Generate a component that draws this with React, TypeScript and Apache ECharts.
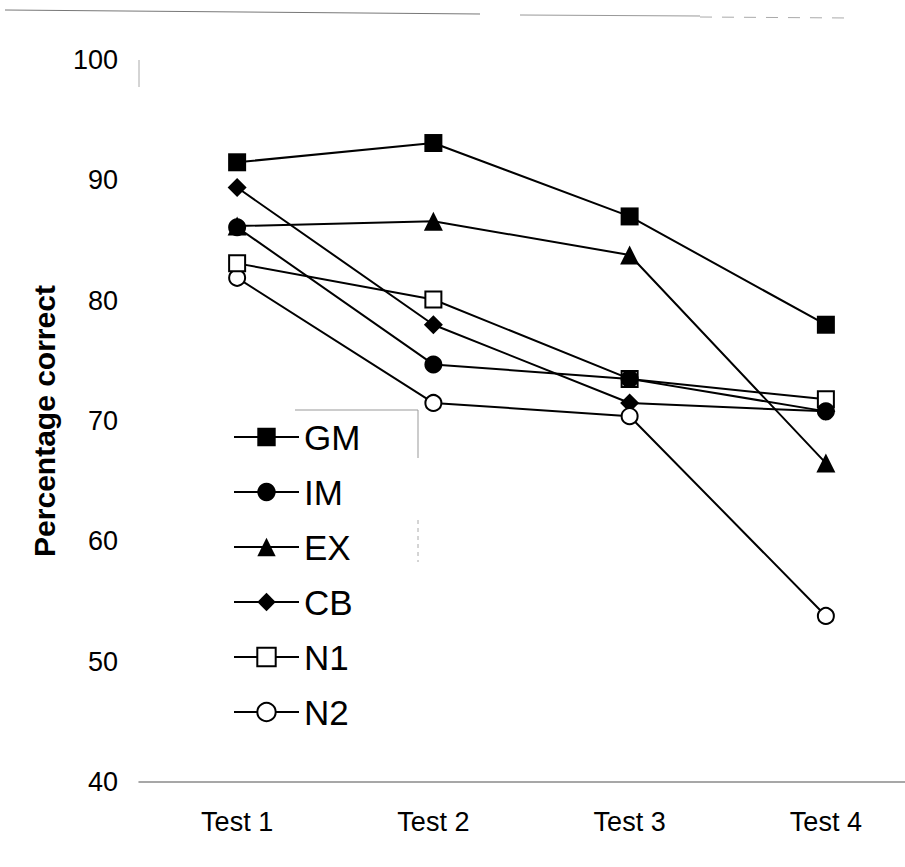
import React, { useEffect, useRef } from "react";
import * as echarts from "echarts";

const categories = ["Test 1", "Test 2", "Test 3", "Test 4"];
const seriesNames = ["GM", "IM", "EX", "CB", "N1", "N2"];
const gmValues = [91.5, 93.1, 87.0, 78.0];
const imValues = [86.1, 74.7, 73.5, 70.8];
const exValues = [86.2, 86.6, 83.8, 66.5];
const cbValues = [89.4, 78.0, 71.5, 70.8];
const n1Values = [83.1, 80.1, 73.5, 71.8];
const n2Values = [81.9, 71.5, 70.4, 53.8];
const yTicks = { min: 40, max: 100, interval: 10 };

const FONT = "'Liberation Sans', Arial, Helvetica, sans-serif";

export default function App() {
  const ref = useRef<HTMLDivElement>(null);
  useEffect(() => {
    if (!ref.current) return;
    const chart = echarts.init(ref.current, null, { renderer: "svg" });
    const mk = (
      name: string,
      data: number[],
      symbol: string,
      size: number,
      hollow: boolean,
      z: number
    ) => ({
      name,
      type: "line",
      data,
      symbol,
      symbolSize: size,
      z,
      lineStyle: { color: "#000", width: 2 },
      itemStyle: hollow
        ? { color: "#fff", borderColor: "#000", borderWidth: 2 }
        : { color: "#000", borderColor: "#000", borderWidth: 0 },
      emphasis: { disabled: true },
    });
    const gray = "#8a8a8a";
    chart.setOption({
      animation: false,
      backgroundColor: "#fff",
      grid: { left: 139, top: 60, width: 785, height: 722 },
      xAxis: {
        type: "category",
        data: categories,
        boundaryGap: true,
        axisLine: { show: true, lineStyle: { color: gray, width: 1.5 } },
        axisTick: { show: false },
        axisLabel: { color: "#000", fontSize: 27, fontFamily: FONT, margin: 26 },
        splitLine: { show: false },
      },
      yAxis: {
        type: "value",
        min: yTicks.min,
        max: yTicks.max,
        interval: yTicks.interval,
        name: "Percentage correct",
        nameLocation: "middle",
        nameRotate: 90,
        nameGap: 80,
        nameTextStyle: { color: "#000", fontSize: 30, fontWeight: "bold", fontFamily: FONT },
        axisLine: { show: false },
        axisTick: { show: false },
        splitLine: { show: false },
        axisLabel: { color: "#000", fontSize: 27, fontFamily: FONT, margin: 21 },
      },
      legend: {
        data: seriesNames,
        orient: "vertical",
        left: 233,
        top: 417,
        padding: 0,
        itemWidth: 65,
        itemHeight: 23,
        itemGap: 15,
        textStyle: { color: "#000", fontSize: 35, fontFamily: FONT, lineHeight: 40 },
        selectedMode: false,
      },
      graphic: [
        { type: "line", shape: { x1: 5, y1: 10, x2: 480, y2: 14 }, style: { stroke: "#777", lineWidth: 1 } },
        { type: "line", shape: { x1: 520, y1: 15, x2: 700, y2: 16 }, style: { stroke: "#999", lineWidth: 1 } },
        { type: "line", shape: { x1: 700, y1: 17, x2: 850, y2: 18 }, style: { stroke: "#aaa", lineWidth: 1, lineDash: [12, 10] } },
        { type: "line", shape: { x1: 139, y1: 60, x2: 139, y2: 87 }, style: { stroke: "#aaa", lineWidth: 1 } },
        { type: "line", shape: { x1: 295, y1: 410, x2: 418, y2: 410 }, style: { stroke: "#999", lineWidth: 1 } },
        { type: "line", shape: { x1: 418, y1: 410, x2: 418, y2: 458 }, style: { stroke: "#999", lineWidth: 1 } },
        { type: "line", shape: { x1: 418, y1: 520, x2: 418, y2: 562 }, style: { stroke: "#aaa", lineWidth: 1, lineDash: [4, 4] } },
      ],
      series: [
        mk("GM", gmValues, "rect", 18, false, 2),
        mk("IM", imValues, "circle", 18, false, 4),
        mk("EX", exValues, "triangle", 19, false, 2),
        mk("CB", cbValues, "diamond", 19, false, 2),
        mk("N1", n1Values, "rect", 16, true, 3),
        mk("N2", n2Values, "circle", 16, true, 2),
      ],
    });
    return () => chart.dispose();
  }, []);
  return (
    <div style={{ position: "absolute", left: 0, top: 0, width: 905, height: 867, overflow: "hidden", background: "#fff" }}>
      <div ref={ref} style={{ width: 940, height: 867 }} />
    </div>
  );
}
